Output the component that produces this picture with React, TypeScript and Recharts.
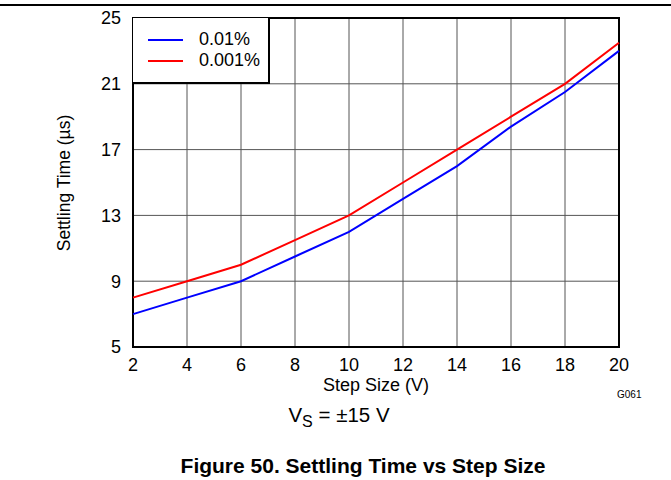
import React from "react"
import {
  LineChart,
  Line,
  XAxis,
  YAxis,
  CartesianGrid,
  ReferenceArea,
} from "recharts"

const stepSizes = [2, 4, 6, 8, 10, 12, 14, 16, 18, 20]
const settle001 = [7, 8, 9, 10.5, 12, 14, 16, 18.4, 20.5, 23]
const settle0001 = [8, 9, 10, 11.5, 13, 15, 17, 19, 21, 23.5]
const xTicks = [2, 4, 6, 8, 10, 12, 14, 16, 18, 20]
const yTicks = [5, 9, 13, 17, 21, 25]

const seriesInfo = [
  { key: "p01", label: "0.01%", color: "#0000ff" },
  { key: "p001", label: "0.001%", color: "#ff0000" },
]

const data = stepSizes.map((s, i) => ({
  step: s,
  p01: settle001[i],
  p001: settle0001[i],
}))

const font = "'Liberation Sans', Arial, sans-serif"

function LegendBox() {
  return (
    <div
      style={{
        position: "absolute",
        left: 133,
        top: 18,
        width: 135,
        height: 53,
        borderRight: "2px solid #000",
        borderBottom: "2px solid #000",
        background: "#fff",
        fontSize: 18,
        color: "#000",
        paddingTop: 11,
      }}
    >
      {seriesInfo.map((s) => (
        <div key={s.key} style={{ display: "flex", alignItems: "center", height: 21 }}>
          <div style={{ width: 35, height: 2, background: s.color, marginLeft: 15, marginRight: 16 }} />
          <span>{s.label}</span>
        </div>
      ))}
    </div>
  )
}

export default function App() {
  return (
    <div style={{ position: "absolute", left: 0, top: 0, width: 671, height: 480, background: "#fff", fontFamily: font }}>
      <div style={{ position: "absolute", left: 0, top: 4, width: 671, height: 2, background: "#000" }} />
      <LineChart
        width={671}
        height={480}
        data={data}
        margin={{ top: 18, right: 52, bottom: 93, left: 93 }}
      >
        <CartesianGrid stroke="#555" strokeWidth={1} />
        <XAxis
          dataKey="step"
          type="number"
          domain={[2, 20]}
          ticks={xTicks}
          tickLine={false}
          axisLine={false}
          tickSize={0}
          tickMargin={11}
          tick={{ fill: "#000", fontSize: 18, fontFamily: font }}
          height={40}
        />
        <YAxis
          type="number"
          domain={[5, 25]}
          ticks={yTicks}
          tickLine={false}
          axisLine={false}
          tickSize={0}
          tickMargin={12}
          width={40}
          tick={{ fill: "#000", fontSize: 18, fontFamily: font }}
        />
        <ReferenceArea x1={2} x2={20} y1={5} y2={25} fill="none" stroke="#000" strokeWidth={2} />
        {seriesInfo.map((s) => (
          <Line
            key={s.key}
            dataKey={s.key}
            name={s.label}
            stroke={s.color}
            strokeWidth={2}
            dot={false}
            type="linear"
            isAnimationActive={false}
          />
        ))}
      </LineChart>
      <LegendBox />
      <div
        style={{
          position: "absolute",
          left: 64,
          top: 183,
          transform: "translate(-50%, -50%) rotate(-90deg)",
          whiteSpace: "nowrap",
          fontSize: 17.5,
        }}
      >
        Settling Time (µs)
      </div>
      <div style={{ position: "absolute", left: 376, top: 385, transform: "translate(-50%, -50%)", fontSize: 18, whiteSpace: "nowrap" }}>
        Step Size (V)
      </div>
      <div style={{ position: "absolute", left: 617, top: 389, fontSize: 10, whiteSpace: "nowrap" }}>G061</div>
      <div style={{ position: "absolute", left: 339, top: 417, transform: "translate(-50%, -50%)", fontSize: 20.5, whiteSpace: "nowrap" }}>
        V<sub style={{ fontSize: 16 }}>S</sub> = ±15 V
      </div>
      <div style={{ position: "absolute", left: 363, top: 466, transform: "translate(-50%, -50%)", fontSize: 21, fontWeight: "bold", whiteSpace: "nowrap" }}>
        Figure 50. Settling Time vs Step Size
      </div>
    </div>
  )
}
